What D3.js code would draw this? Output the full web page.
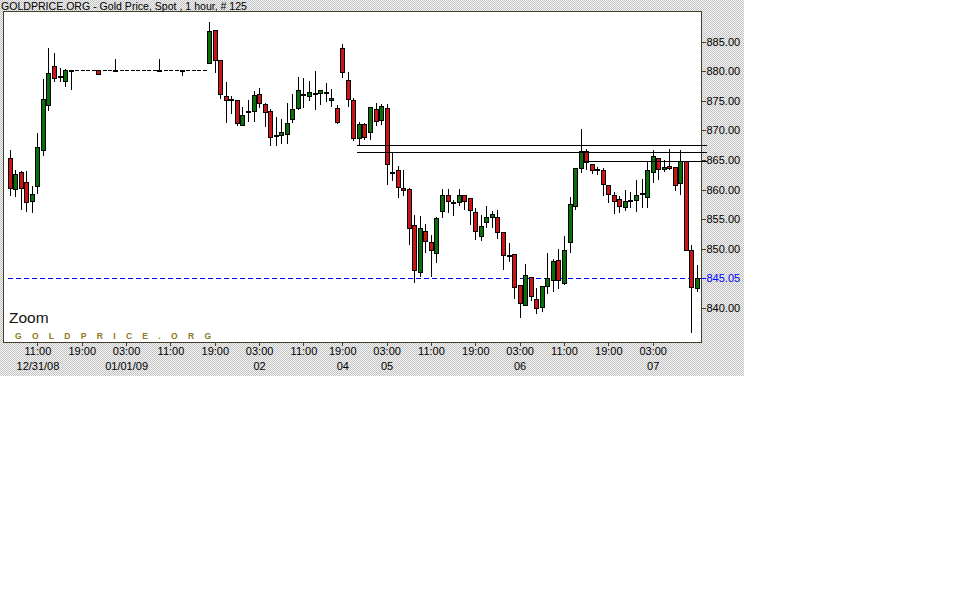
<!DOCTYPE html>
<html><head><meta charset="utf-8">
<script src="https://cdn.jsdelivr.net/npm/d3@7"></script>
<style>html,body{margin:0;padding:0;background:#fff;} svg{display:block;}</style>
</head><body>
<svg id="chart" width="962" height="610"></svg>
<script>
// ---- data (hourly candles, # 125) ----
const openP = [865.39,860.17,862.92,861.35,858.09,860.62,866.68,874.27,880.90,879.16,
878.31,880.28,880.28,880.28,880.28,880.28,880.22,880.28,880.28,880.28,
880.28,880.28,880.28,880.28,880.28,880.28,880.28,880.28,880.28,880.28,
880.28,880.28,880.28,880.28,880.28,880.28,881.35,886.96,881.91,875.84,
875.28,875.17,870.95,873.26,873.26,876.18,874.49,873.31,869.27,869.21,
869.44,871.96,873.76,876.18,875.84,876.40,876.29,876.52,875.11,873.82,
883.93,878.54,875.17,868.76,871.12,869.77,873.65,871.80,873.82,862.98,
863.37,860.34,860.17,854.10,846.18,853.09,851.24,849.38,856.40,859.16,
857.92,857.98,859.16,858.65,856.23,852.24,854.55,855.45,855.45,852.81,
848.99,849.21,843.88,840.56,845.28,841.63,840.28,843.76,844.83,848.20,
844.33,851.18,857.25,863.71,866.57,864.33,863.48,863.37,860.84,859.16,
858.48,857.13,858.26,858.31,859.38,858.76,863.03,865.39,863.48,864.04,
863.88,861.18,864.89,849.89,843.49];
const highP = [866.63,863.26,863.09,863.09,860.62,869.60,878.71,883.93,883.09,880.56,
880.39,880.28,880.28,880.28,880.28,880.28,880.22,880.28,880.28,882.08,
880.28,880.28,880.28,880.28,880.28,880.28,880.28,882.08,880.28,880.28,
880.28,880.28,880.28,880.28,880.28,880.28,888.26,886.96,881.91,878.26,
875.90,875.17,873.99,875.06,876.68,877.25,874.66,873.65,872.30,871.96,
874.66,876.18,879.10,878.93,878.43,880.11,876.85,878.09,877.02,874.33,
884.66,879.94,875.56,871.40,871.29,873.99,874.61,874.44,874.49,866.24,
863.93,863.26,860.34,855.67,855.51,854.27,852.30,855.34,860.06,860.06,
858.31,860.06,859.16,858.65,856.96,855.67,857.19,856.35,856.52,852.81,
850.96,849.21,843.99,847.47,845.28,843.43,843.82,849.38,848.31,850.06,
852.13,858.82,863.71,870.17,866.91,864.33,863.82,863.65,860.84,859.60,
858.93,859.94,859.60,861.69,861.85,864.66,866.63,865.39,864.94,866.91,
863.88,866.63,864.89,850.62,847.36];
const lowP = [859.04,858.93,856.68,856.40,856.23,859.44,865.90,873.43,878.31,878.31,
877.58,877.02,880.28,880.28,880.28,880.28,879.55,880.28,880.28,880.28,
880.28,880.28,880.28,880.28,880.28,880.28,880.28,880.28,880.28,880.28,
880.28,879.44,880.28,880.28,880.28,880.28,881.35,879.83,875.45,871.51,
872.92,870.84,870.95,871.68,871.57,873.93,870.73,867.53,867.53,867.81,
867.81,871.51,873.54,874.04,875.06,873.54,874.44,874.89,874.21,871.18,
879.10,874.10,868.37,867.47,868.54,868.54,870.84,871.01,860.90,861.63,
858.76,859.04,850.84,844.44,845.45,849.49,845.45,847.81,855.39,856.23,
855.67,857.36,856.68,854.16,851.69,851.46,853.65,853.65,851.91,846.63,
847.98,841.74,838.54,840.56,841.46,839.21,839.55,842.64,842.87,843.43,
844.16,849.49,856.80,862.98,863.54,862.81,862.58,859.04,857.92,856.12,
856.23,856.52,857.08,856.35,857.08,857.02,861.29,861.80,863.14,863.48,
859.94,859.32,849.89,835.90,842.92];
const closeP = [860.34,862.69,860.34,857.98,859.32,867.25,875.34,879.72,878.87,879.16,
880.22,880.28,880.28,880.28,880.28,880.28,879.55,880.28,880.28,880.28,
880.28,880.28,880.28,880.28,880.28,880.28,880.28,880.28,880.28,880.28,
880.28,880.28,880.28,880.28,880.28,880.28,886.85,881.91,876.18,875.11,
875.28,871.25,872.69,873.26,876.01,874.61,873.09,868.93,869.27,869.77,
871.29,873.65,876.85,876.18,876.52,876.40,876.85,876.52,875.56,871.40,
879.83,875.28,868.71,871.12,868.87,873.99,871.57,874.16,864.38,862.98,
860.45,860.00,853.60,846.52,853.60,851.40,849.88,855.17,859.16,858.15,
857.92,859.16,858.15,856.63,853.03,853.93,855.45,855.96,852.86,848.99,
848.99,843.60,840.96,845.67,842.08,840.11,843.82,845.17,848.03,844.83,
849.89,857.64,863.71,866.57,864.72,863.31,863.48,861.01,859.32,858.09,
857.30,858.15,858.26,859.16,859.38,863.37,865.73,863.54,863.88,863.65,
860.79,864.89,849.89,843.60,845.05];

const yTickValues = [885, 880, 875, 870, 865, 860, 855, 850, 840];
const lastPrice = 845.05;
const tickIndex = [5, 13, 21, 29, 37, 45, 53, 60, 68, 76, 84, 92, 100, 108, 116];
const tickTime = ["11:00","19:00","03:00","11:00","19:00","03:00","11:00","19:00","03:00","11:00","19:00","03:00","11:00","19:00","03:00"];
const tickDate = ["12/31/08","","01/01/09","","","02","","04","05","","","06","","","07"];
const trendStart = [62.7, 62.7, 103.8];
const trendLevel = [867.47, 866.29, 864.77];

const titleText = "GOLDPRICE.ORG - Gold Price, Spot , 1 hour, # 125";

// ---- layout ----
const frameW = 744, frameH = 376;
const pl = 3, pr = 701, pt = 11, pb = 342;
const svg = d3.select("#chart");

const defs = svg.append("defs");
const pat = defs.append("pattern").attr("id","dither").attr("width",2).attr("height",2)
  .attr("patternUnits","userSpaceOnUse");
pat.append("rect").attr("width",2).attr("height",2).attr("fill","#f4f4f4");
pat.append("rect").attr("x",0).attr("y",0).attr("width",1).attr("height",1).attr("fill","#c4c4c4");
pat.append("rect").attr("x",1).attr("y",1).attr("width",1).attr("height",1).attr("fill","#c4c4c4");

svg.append("rect").attr("x",0).attr("y",0).attr("width",frameW).attr("height",frameH).attr("fill","url(#dither)");
svg.append("rect").attr("x",pl+0.5).attr("y",pt+0.5).attr("width",pr-pl).attr("height",pb-pt)
  .attr("fill","#fff").attr("stroke","#3f3f2a").attr("stroke-width",1).attr("shape-rendering","crispEdges");

const data = openP.map((o,i)=>({i, o, h:highP[i], l:lowP[i], c:closeP[i]}));

const x = d3.scaleLinear().domain([0, 124]).range([9.7, 697.0]);
const y = d3.scaleLinear().domain([840, 885]).range([308.2, 41.6]);
const px = v => Math.round(v) + 0.5;

// title
svg.append("text").attr("x",1).attr("y",9.5).attr("font-family","Liberation Sans, Arial, sans-serif")
  .attr("font-size",11).attr("fill","#000").attr("textLength",246).attr("lengthAdjust","spacingAndGlyphs")
  .text(titleText);

// Zoom label + watermark
svg.append("text").attr("x",9).attr("y",322.5).attr("font-family","Liberation Sans, Arial, sans-serif")
  .attr("font-size",15.5).attr("fill","#111").text("Zoom");
svg.append("text").attr("x",15).attr("y",338.5).attr("font-family","Liberation Sans, Arial, sans-serif")
  .attr("font-size",8.5).attr("font-weight","bold").attr("fill","#8a7a22")
  .attr("textLength",196).attr("lengthAdjust","spacing").text("GOLDPRICE.ORG");

// last price dashed line
const g = svg.append("g").attr("shape-rendering","crispEdges");
g.append("line").attr("x1",pl+5).attr("x2",pr).attr("y1",px(y(lastPrice))).attr("y2",px(y(lastPrice)))
  .attr("stroke","#0000ff").attr("stroke-width",1).attr("stroke-dasharray","5,3");

// candles
const cg = g.append("g");
data.forEach(d => {
  const cx = Math.round(x(d.i));
  if (d.h > d.l) {
    cg.append("line").attr("x1",cx+0.5).attr("x2",cx+0.5)
      .attr("y1",Math.round(y(d.h))).attr("y2",Math.round(y(d.l))+1)
      .attr("stroke","#000").attr("stroke-width",1);
  }
  const top = Math.round(y(Math.max(d.o,d.c)));
  const bot = Math.round(y(Math.min(d.o,d.c)));
  if (bot - top >= 2) {
    cg.append("rect").attr("x",cx-1.5).attr("y",top+0.5).attr("width",4).attr("height",bot-top)
      .attr("fill", d.c >= d.o ? "#0a6e0a" : "#cc1414").attr("stroke","#000").attr("stroke-width",1);
  } else if (d.h > d.l) {
    cg.append("rect").attr("x",cx-2).attr("y",top).attr("width",5).attr("height",2).attr("fill","#000");
  } else {
    cg.append("rect").attr("x",cx-1.5).attr("y",top).attr("width",4).attr("height",1).attr("fill","#000");
  }
});

// trend lines
trendLevel.forEach((lv,k) => {
  g.append("line").attr("x1",x(trendStart[k])).attr("x2",pr+6)
    .attr("y1",px(y(lv))).attr("y2",px(y(lv))).attr("stroke","#000").attr("stroke-width",1);
});

// y axis (right)
const yAxis = d3.axisRight(y).tickValues(yTickValues).tickSize(4).tickPadding(1).tickFormat(d3.format(".2f"));
const ya = svg.append("g").attr("transform",`translate(${pr+0.5},0)`).call(yAxis);
ya.select(".domain").remove();
ya.selectAll(".tick line").attr("stroke","#3f3f2a").attr("shape-rendering","crispEdges");
ya.selectAll(".tick text").attr("font-family","Liberation Sans, Arial, sans-serif").attr("font-size",11).attr("fill","#000");
const lastY = px(y(lastPrice));
ya.append("line").attr("x1",0).attr("x2",4).attr("y1",lastY).attr("y2",lastY).attr("stroke","#0000ff").attr("shape-rendering","crispEdges");
ya.append("text").attr("x",5).attr("y",lastY).attr("dy","0.32em").attr("font-family","Liberation Sans, Arial, sans-serif")
  .attr("font-size",11).attr("fill","#0000ff").text(d3.format(".2f")(lastPrice));

// x axis (bottom)
const xAxis = d3.axisBottom(x).tickValues(tickIndex).tickSize(3).tickPadding(2)
  .tickFormat((d,k)=>tickTime[k]);
const xa = svg.append("g").attr("transform",`translate(0,${pb+0.5})`).call(xAxis);
xa.select(".domain").remove();
xa.selectAll(".tick line").attr("stroke","#3f3f2a").attr("shape-rendering","crispEdges");
xa.selectAll(".tick text").attr("font-family","Liberation Sans, Arial, sans-serif").attr("font-size",11).attr("fill","#000");
xa.selectAll(".tick").append("text").attr("class","date").attr("y",27.5)
  .attr("font-family","Liberation Sans, Arial, sans-serif").attr("font-size",11).attr("fill","#000")
  .attr("text-anchor","middle").text((d,k)=>tickDate[k]);
</script>
</body></html>
